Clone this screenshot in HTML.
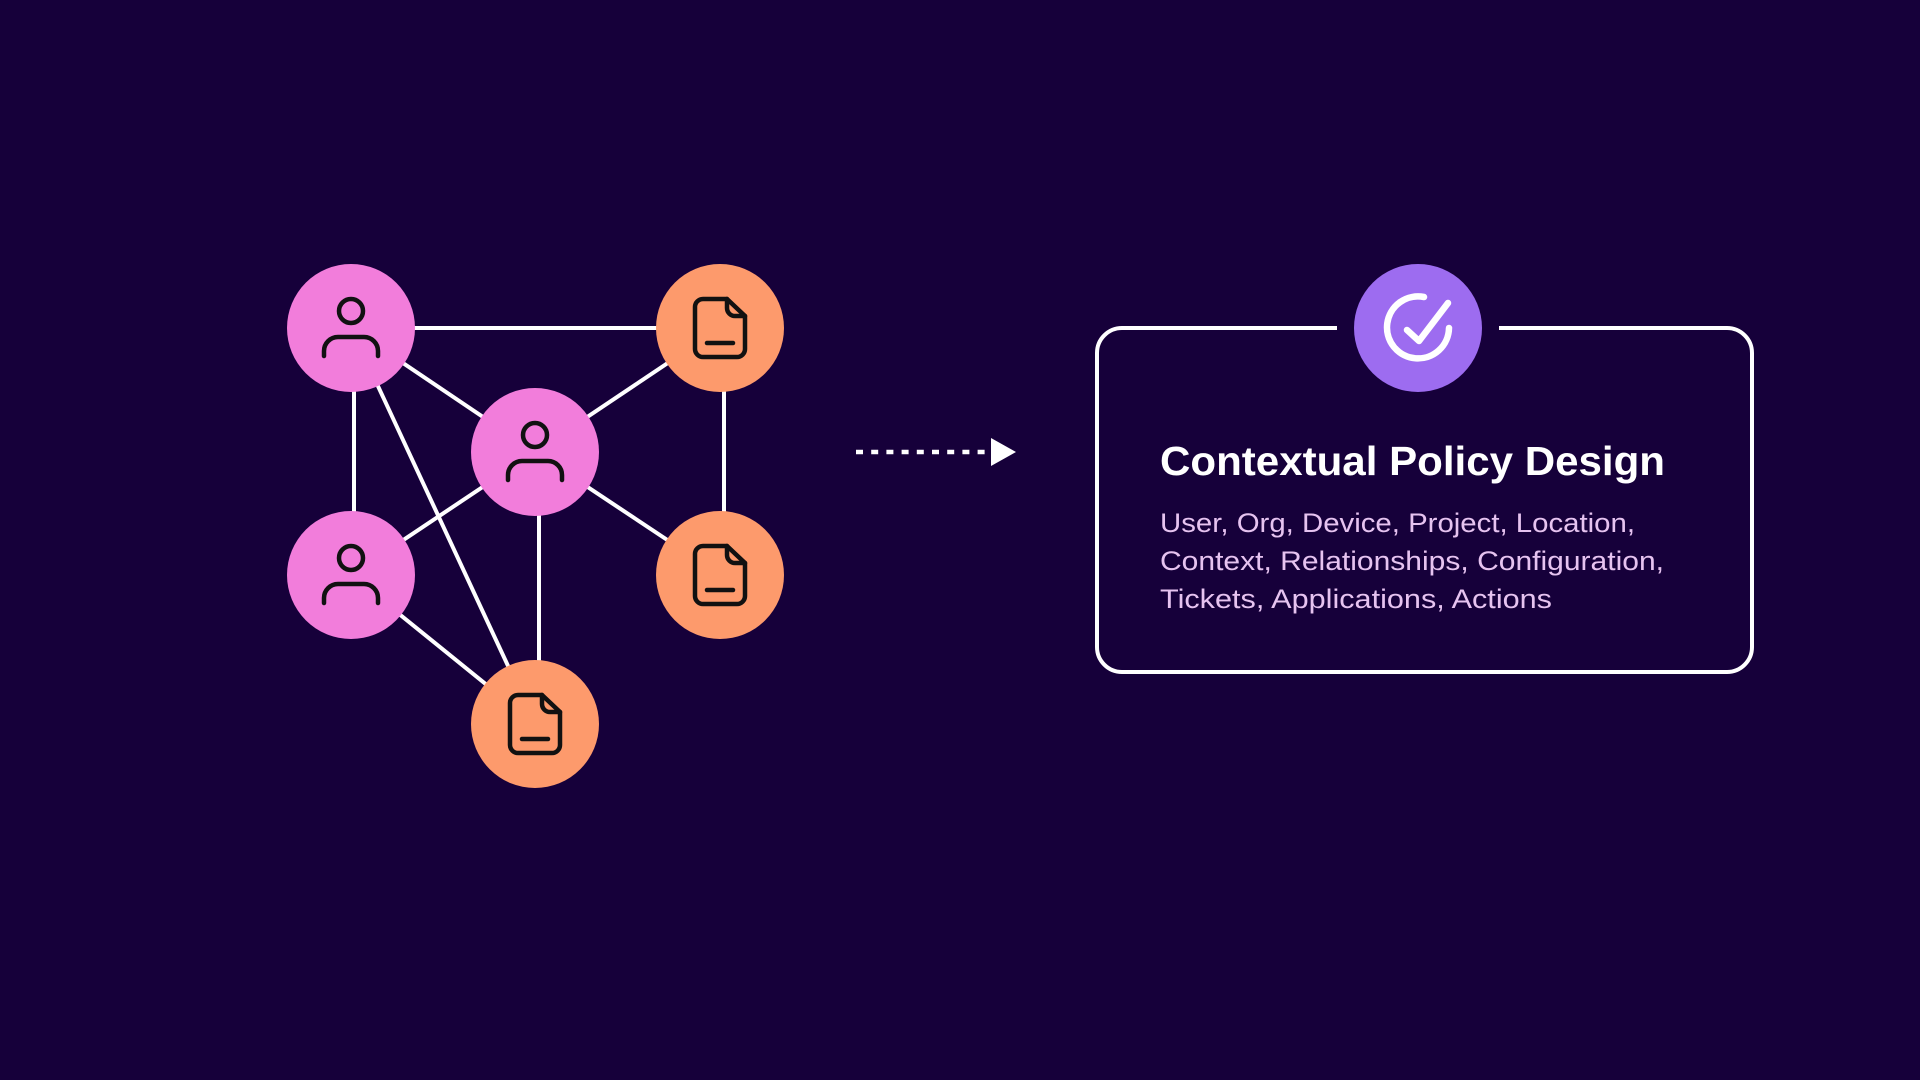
<!DOCTYPE html>
<html><head><meta charset="utf-8"><style>
html,body{margin:0;padding:0;background:#16003a;}
svg{display:block;}
</style></head><body>
<svg width="1920" height="1080" viewBox="0 0 1920 1080" xmlns="http://www.w3.org/2000/svg">
<rect width="1920" height="1080" fill="#16003a"/>
<defs>
<g id="person" fill="none" stroke="#111" stroke-width="4.5" stroke-linecap="round">
<circle cx="0" cy="-17" r="12"/>
<path d="M-27 28 v-5 a14 14 0 0 1 14 -14 h26 a14 14 0 0 1 14 14 v5"/>
</g>
<g id="doc" fill="none" stroke="#111" stroke-width="4.5" stroke-linecap="round" stroke-linejoin="round">
<path d="M-17 -29 h24 l18 17 v33 a8 8 0 0 1 -8 8 h-34 a8 8 0 0 1 -8 -8 v-42 a8 8 0 0 1 8 -8 z"/>
<path d="M7 -29 v9 a8 8 0 0 0 8 8 h10"/>
<line x1="-13" y1="15" x2="13" y2="15"/>
</g>
</defs>
<g stroke="#fff" stroke-width="4">
<line x1="351" y1="328" x2="720" y2="328"/>
<line x1="351" y1="328" x2="535" y2="452"/>
<line x1="354" y1="328" x2="354" y2="575"/>
<line x1="351" y1="328" x2="535" y2="724"/>
<line x1="720" y1="328" x2="535" y2="452"/>
<line x1="724" y1="328" x2="724" y2="575"/>
<line x1="535" y1="452" x2="351" y2="575"/>
<line x1="535" y1="452" x2="720" y2="575"/>
<line x1="539" y1="452" x2="539" y2="724"/>
<line x1="351" y1="575" x2="535" y2="724"/>
</g>
<g fill="#f27ddb">
<circle cx="351" cy="328" r="64"/><circle cx="535" cy="452" r="64"/><circle cx="351" cy="575" r="64"/>
</g>
<g fill="#fd9a6c">
<circle cx="720" cy="328" r="64"/><circle cx="720" cy="575" r="64"/><circle cx="535" cy="724" r="64"/>
</g>
<use href="#person" x="351" y="328"/><use href="#person" x="535" y="452"/><use href="#person" x="351" y="575"/>
<use href="#doc" x="720" y="328"/><use href="#doc" x="720" y="575"/><use href="#doc" x="535" y="724"/>
<line x1="856" y1="452" x2="989" y2="452" stroke="#fff" stroke-width="4.5" stroke-dasharray="7 8.2"/>
<polygon points="991,438 1016,452 991,466" fill="#fff"/>
<path d="M1337 328 H1122 a25 25 0 0 0 -25 25 V647 a25 25 0 0 0 25 25 H1727 a25 25 0 0 0 25 -25 V353 a25 25 0 0 0 -25 -25 H1499" fill="none" stroke="#fff" stroke-width="4"/>
<circle cx="1418" cy="328" r="64" fill="#9d6cf0"/>
<g fill="none" stroke="#fff" stroke-width="6.5" stroke-linecap="round" stroke-linejoin="round">
<path d="M1424 297 A31 31 0 1 0 1449 328"/>
<path d="M1407 330 L1419 341 L1448 303"/>
</g>
<g font-family="Liberation Sans, sans-serif">
<text x="1160" y="475" font-size="41" font-weight="bold" fill="#fff" textLength="505" lengthAdjust="spacingAndGlyphs">Contextual Policy Design</text>
<g font-size="27" fill="#e6c3f0">
<text x="1160" y="532" textLength="475" lengthAdjust="spacingAndGlyphs">User, Org, Device, Project, Location,</text>
<text x="1160" y="570" textLength="504" lengthAdjust="spacingAndGlyphs">Context, Relationships, Configuration,</text>
<text x="1160" y="608" textLength="392" lengthAdjust="spacingAndGlyphs">Tickets, Applications, Actions</text>
</g>
</g>
</svg>
</body></html>
